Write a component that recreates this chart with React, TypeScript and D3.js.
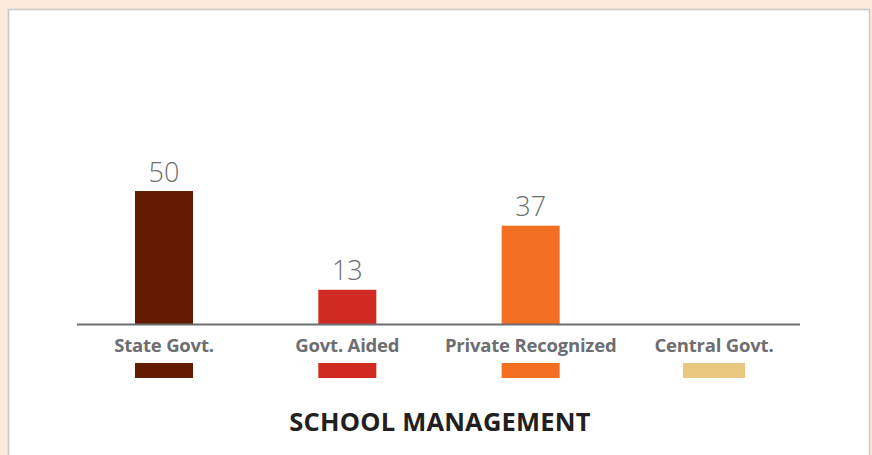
import React, { useEffect, useRef } from 'react';
import * as d3 from 'd3';

const categories: string[] = ['State Govt.', 'Govt. Aided', 'Private Recognized', 'Central Govt.'];
const values: number[] = [50, 13, 37, 0];
const colors: string[] = ['#621b00', '#d12a22', '#f26f22', '#e8c77e'];
const title = 'SCHOOL MANAGEMENT';

const width = 872;
const height = 455;

const App: React.FC = () => {
    const svgRef = useRef<SVGSVGElement | null>(null);

    useEffect(() => {
        const svg = d3.select(svgRef.current)
            .attr('width', width)
            .attr('height', height);

        svg.selectAll('*').remove();

        // page background + panel
        svg.append('rect')
            .attr('width', width)
            .attr('height', height)
            .attr('fill', '#fde8dc');

        svg.append('rect')
            .attr('x', 8.5)
            .attr('y', 9.5)
            .attr('width', 861)
            .attr('height', 470)
            .attr('fill', '#ffffff')
            .attr('stroke', '#c8c8c8')
            .attr('stroke-width', 1.5);

        const baseY = 324.5;
        const barW = 58;

        const x = d3.scalePoint<string>()
            .domain(categories)
            .range([164, 714]);

        const y = d3.scaleLinear()
            .domain([0, 50])
            .range([baseY, 191]);

        const rows = categories.map((c, i) => ({ cat: c, value: values[i], color: colors[i] }));

        // bars
        svg.append('g')
            .selectAll('rect')
            .data(rows.filter(d => d.value > 0))
            .join('rect')
            .attr('x', d => (x(d.cat) as number) - barW / 2)
            .attr('y', d => y(d.value))
            .attr('width', barW)
            .attr('height', d => baseY - y(d.value))
            .attr('fill', d => d.color);

        // value labels
        svg.append('g')
            .selectAll('text')
            .data(rows.filter(d => d.value > 0))
            .join('text')
            .attr('x', d => x(d.cat) as number)
            .attr('y', d => y(d.value) - 9.5)
            .attr('text-anchor', 'middle')
            .attr('font-family', '"Open Sans", sans-serif')
            .attr('font-weight', 300)
            .attr('font-size', 27)
            .attr('fill', '#6d6e71')
            .text(d => d.value);

        // baseline
        svg.append('line')
            .attr('x1', 77)
            .attr('x2', 800)
            .attr('y1', baseY)
            .attr('y2', baseY)
            .attr('stroke', '#6d6e71')
            .attr('stroke-width', 2);

        // category labels
        svg.append('g')
            .selectAll('text')
            .data(rows)
            .join('text')
            .attr('x', d => x(d.cat) as number)
            .attr('y', 351.5)
            .attr('text-anchor', 'middle')
            .attr('font-family', '"Open Sans", sans-serif')
            .attr('font-weight', 700)
            .attr('font-size', 18.5)
            .attr('letter-spacing', -0.2)
            .attr('fill', '#6d6e71')
            .text(d => d.cat);

        // color swatches under labels
        svg.append('g')
            .selectAll('rect')
            .data(rows)
            .join('rect')
            .attr('x', (d, i) => (x(d.cat) as number) - (i === 3 ? 31 : barW / 2))
            .attr('y', 363)
            .attr('width', (d, i) => (i === 3 ? 62 : barW))
            .attr('height', 15)
            .attr('fill', d => d.color);

        // title
        svg.append('text')
            .attr('x', 440)
            .attr('y', 431)
            .attr('text-anchor', 'middle')
            .attr('font-family', '"Open Sans", sans-serif')
            .attr('font-weight', 700)
            .attr('font-size', 25.5)
            .attr('letter-spacing', 0.2)
            .attr('fill', '#231f20')
            .text(title);
    }, []);

    return <svg ref={svgRef} style={{ position: 'absolute', left: 0, top: 0 }}></svg>;
};

export default App;
